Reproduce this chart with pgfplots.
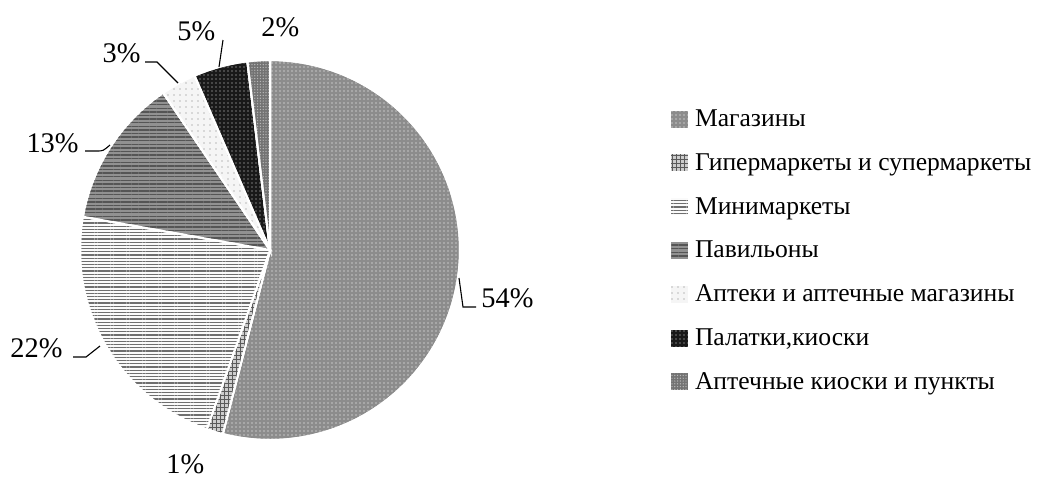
\documentclass[border=0pt]{standalone}
\usepackage{fontspec}
\setmainfont{Liberation Serif}
\usepackage{pgfplots}
\pgfplotsset{compat=1.18}
\usetikzlibrary{patterns,patterns.meta}
\definecolor{cA}{RGB}{140,140,140}\definecolor{pA}{RGB}{195,195,195}
\definecolor{cB}{RGB}{205,205,205}\definecolor{pB}{RGB}{90,90,90}
\definecolor{cC}{RGB}{250,250,250}\definecolor{pC}{RGB}{110,110,110}
\definecolor{cD}{RGB}{145,145,145}\definecolor{pD}{RGB}{85,85,85}
\definecolor{cE}{RGB}{245,245,245}\definecolor{pE}{RGB}{120,120,120}
\definecolor{cF}{RGB}{25,25,25}\definecolor{pF}{RGB}{120,120,120}
\definecolor{cG}{RGB}{115,115,115}\definecolor{pG}{RGB}{185,185,185}
\tikzset{
 sA/.style={fill=cA, postaction={pattern={Dots[distance=2pt,radius=0.4pt]}, pattern color=pA}},
 sB/.style={fill=cB, postaction={pattern={Hatch[angle=0,distance=2pt,line width=0.4pt]}, pattern color=pB}},
 sC/.style={fill=cC, postaction={pattern={Lines[angle=0,distance=1.6pt,line width=0.6pt]}, pattern color=pC}},
 sD/.style={fill=cD, postaction={pattern={Lines[angle=0,distance=1.8pt,line width=0.7pt]}, pattern color=pD}},
 sE/.style={fill=cE, postaction={pattern={Dots[distance=3pt,radius=0.35pt]}, pattern color=pE}},
 sF/.style={fill=cF, postaction={pattern={Dots[distance=2pt,radius=0.45pt]}, pattern color=pF}},
 sG/.style={fill=cG, postaction={pattern={Dots[distance=1.4pt,radius=0.35pt]}, pattern color=pG}},
}
% shares in percent
\def\vA{54.0}\def\vB{1.4}\def\vC{22.4}\def\vD{12.7}\def\vE{3.0}\def\vF{4.6}\def\vG{1.9}
\pgfmathsetmacro\aA{90}
\pgfmathsetmacro\aB{\aA-3.6*\vA}
\pgfmathsetmacro\aC{\aB-3.6*\vB}
\pgfmathsetmacro\aD{\aC-3.6*\vC}
\pgfmathsetmacro\aE{\aD-3.6*\vD}
\pgfmathsetmacro\aF{\aE-3.6*\vE}
\pgfmathsetmacro\aG{\aF-3.6*\vF}
\pgfmathsetmacro\aH{\aG-3.6*\vG}
\newcommand\fs{\fontsize{14.2}{17}\selectfont}
\newcommand\fl{\fontsize{12.8}{15}\selectfont}
\begin{document}
\begin{tikzpicture}
\begin{axis}[
  width=524pt, height=239.5pt, scale only axis,
  xmin=0, xmax=1048, ymin=0, ymax=479, y dir=reverse,
  hide axis, clip=false,
  legend style={draw=none, fill=none, inner sep=0pt, outer sep=0pt,
    at={(axis cs:669,106.5)}, anchor=north west, font=\fl,
    row sep=8.9pt,
    nodes={inner sep=0pt, text height=10pt, text depth=3pt, anchor=west},
    /tikz/every odd column/.style={column sep=2.5pt}},
  legend cell align=left,
  legend image code/.code={\fill[#1, draw=none] (-1.5pt,-4.5pt) rectangle (8pt,5pt);},
  pie/.style={draw=white, line width=1pt, samples=120},
]
\path (axis cs:0,0) rectangle (axis cs:1048,479);
\addplot[sA, pie, domain=\aB:\aA] ({270+190*cos(x)},{250-190*sin(x)}) -- (axis cs:270,250) -- cycle;
\addlegendentry{Магазины}
\addplot[sB, pie, domain=\aC:\aB] ({270+190*cos(x)},{250-190*sin(x)}) -- (axis cs:270,250) -- cycle;
\addlegendentry{Гипермаркеты и супермаркеты}
\addplot[sC, pie, domain=\aD:\aC] ({270+190*cos(x)},{250-190*sin(x)}) -- (axis cs:270,250) -- cycle;
\addlegendentry{Минимаркеты}
\addplot[sD, pie, domain=\aE:\aD] ({270+190*cos(x)},{250-190*sin(x)}) -- (axis cs:270,250) -- cycle;
\addlegendentry{Павильоны}
\addplot[sE, pie, domain=\aF:\aE] ({270+190*cos(x)},{250-190*sin(x)}) -- (axis cs:270,250) -- cycle;
\addlegendentry{Аптеки и аптечные магазины}
\addplot[sF, pie, domain=\aG:\aF] ({270+190*cos(x)},{250-190*sin(x)}) -- (axis cs:270,250) -- cycle;
\addlegendentry{Палатки,киоски}
\addplot[sG, pie, domain=\aH:\aG] ({270+190*cos(x)},{250-190*sin(x)}) -- (axis cs:270,250) -- cycle;
\addlegendentry{Аптечные киоски и пункты}
% data labels
\node[anchor=base west, font=\fs, inner sep=0pt] at (axis cs:481,307) {54\%};
\node[anchor=base west, font=\fs, inner sep=0pt] at (axis cs:10,357) {22\%};
\node[anchor=base east, font=\fs, inner sep=0pt] at (axis cs:79,152) {13\%};
\node[anchor=base east, font=\fs, inner sep=0pt] at (axis cs:141,62) {3\%};
\node[anchor=base west, font=\fs, inner sep=0pt] at (axis cs:177,40) {5\%};
\node[anchor=base west, font=\fs, inner sep=0pt] at (axis cs:261,36) {2\%};
\node[anchor=base west, font=\fs, inner sep=0pt] at (axis cs:166,473) {1\%};
% leader lines
\draw[line width=0.55pt] (axis cs:459,278) -- (axis cs:463,307) -- (axis cs:476,307);
\draw[line width=0.55pt] (axis cs:100,346) -- (axis cs:86,357) -- (axis cs:73,357);
\draw[line width=0.55pt] (axis cs:110,145) .. controls (axis cs:103,151) .. (axis cs:97,151) -- (axis cs:85,151);
\draw[line width=0.55pt] (axis cs:178,83) -- (axis cs:157,62) -- (axis cs:145,62);
\draw[line width=0.55pt] (axis cs:219,67) -- (axis cs:223,40);
\end{axis}
\end{tikzpicture}
\end{document}
